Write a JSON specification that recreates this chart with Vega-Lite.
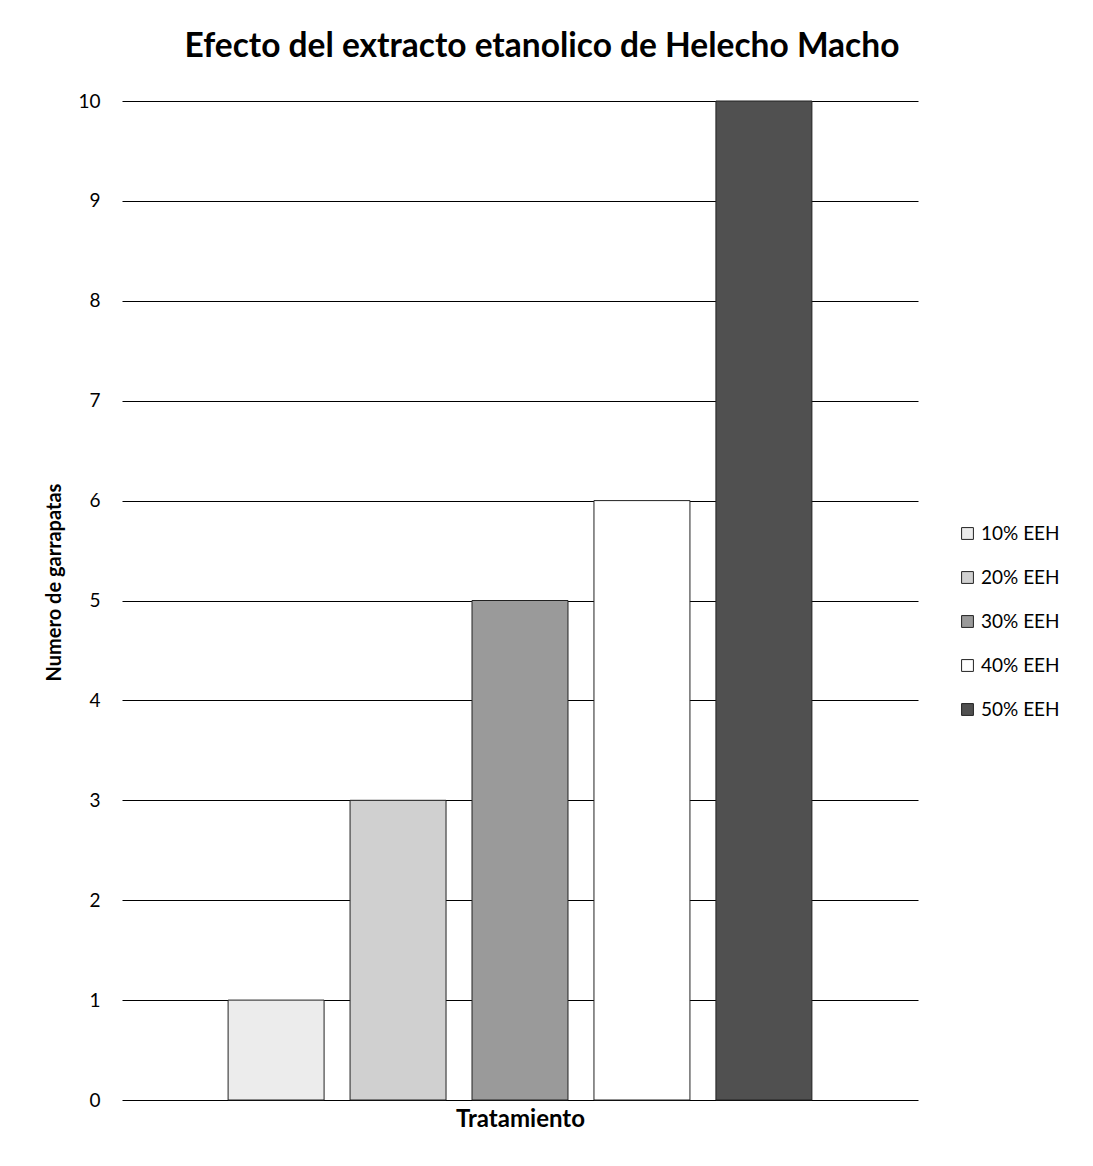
{
  "$schema": "https://vega.github.io/schema/vega-lite/v6.json",
  "autosize": "none",
  "width": 796,
  "height": 999,
  "padding": {"left": 122, "top": 101, "right": 175, "bottom": 66},
  "background": "white",
  "title": {
    "text": "Efecto del extracto etanolico de Helecho Macho",
    "font": "Lato",
    "fontSize": 33.5,
    "fontWeight": "bold",
    "color": "black",
    "anchor": "middle",
    "frame": "group",
    "dx": 22,
    "offset": 28
  },
  "data": {
    "values": [
      {"tratamiento": "10% EEH", "garrapatas": 1},
      {"tratamiento": "20% EEH", "garrapatas": 3},
      {"tratamiento": "30% EEH", "garrapatas": 5},
      {"tratamiento": "40% EEH", "garrapatas": 6},
      {"tratamiento": "50% EEH", "garrapatas": 10}
    ]
  },
  "mark": {"type": "bar", "stroke": "#222", "strokeWidth": 1},
  "encoding": {
    "x": {
      "field": "tratamiento",
      "type": "nominal",
      "sort": null,
      "scale": {"paddingInner": 0.213, "paddingOuter": 0.87},
      "axis": {
        "title": "Tratamiento",
        "labels": false,
        "ticks": false,
        "domain": false,
        "titleFont": "Lato",
        "titleFontSize": 24,
        "titleFontWeight": "bold",
        "titleColor": "black",
        "titlePadding": 7
      }
    },
    "y": {
      "field": "garrapatas",
      "type": "quantitative",
      "scale": {"domain": [0, 10], "nice": false},
      "axis": {
        "title": "Numero de garrapatas",
        "values": [0, 1, 2, 3, 4, 5, 6, 7, 8, 9, 10],
        "labelOverlap": false,
        "domain": false,
        "ticks": false,
        "labelPadding": 22,
        "labelFont": "Lato",
        "labelFontSize": 19,
        "labelColor": "black",
        "titleFont": "Lato",
        "titleFontSize": 20,
        "titleFontWeight": "bold",
        "titleColor": "black",
        "titlePadding": 13,
        "titleY": 481,
        "grid": true,
        "gridColor": "black",
        "gridOpacity": 1,
        "gridWidth": 1
      }
    },
    "color": {
      "field": "tratamiento",
      "type": "nominal",
      "sort": null,
      "scale": {
        "domain": ["10% EEH", "20% EEH", "30% EEH", "40% EEH", "50% EEH"],
        "range": ["#ececec", "#d0d0d0", "#9a9a9a", "#ffffff", "#505050"]
      },
      "legend": {
        "title": null,
        "orient": "none",
        "legendX": 836,
        "legendY": 423,
        "symbolType": "square",
        "symbolSize": 140,
        "symbolStrokeColor": "#222",
        "symbolStrokeWidth": 1,
        "labelFont": "Lato",
        "labelFontSize": 19,
        "labelColor": "black",
        "rowPadding": 24,
        "labelOffset": 4
      }
    }
  },
  "config": {"view": {"stroke": null}}
}
